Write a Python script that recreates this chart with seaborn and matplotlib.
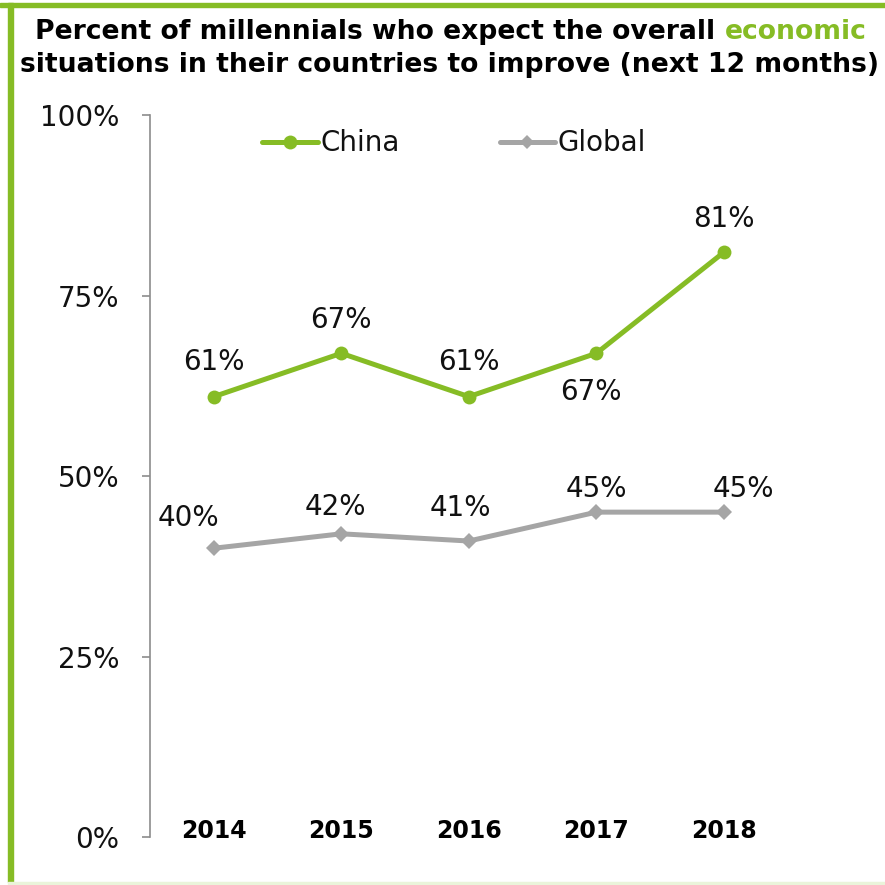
import matplotlib
matplotlib.use("Agg")
import matplotlib.pyplot as plt
import seaborn as sns
import pandas as pd
from matplotlib.patches import Rectangle
from matplotlib.lines import Line2D

years = ["2014", "2015", "2016", "2017", "2018"]
china = [61, 67, 61, 67, 81]
global_vals = [40, 42, 41, 45, 45]
y_ticks = [0, 25, 50, 75, 100]
y_tick_labels = ["0%", "25%", "50%", "75%", "100%"]

GREEN = "#86BC25"
GRAY = "#A5A5A5"
INK = "#111111"

# label offsets in points (dx, dy) for each point
china_offsets = [(0, 25), (0, 24), (0, 25), (-4, -28), (0, 24)]
global_offsets = [(-18, 22), (-4, 19), (-6, 24), (0, 17), (14, 17)]

df = pd.DataFrame({
    "year": years * 2,
    "value": china + global_vals,
    "series": ["China"] * len(years) + ["Global"] * len(years),
})

sns.set_theme(style="white")
plt.rcParams["font.family"] = ["DejaVu Sans"]

fig = plt.figure(figsize=(8.85, 8.85), dpi=100)
ax = fig.add_axes([0.1695, 0.0542, 0.7205, 0.8158])

sns.lineplot(data=df, x="year", y="value", hue="series", style="series",
             palette={"China": GREEN, "Global": GRAY},
             markers={"China": "o", "Global": "D"},
             dashes=False, linewidth=3.6, markersize=10,
             markeredgewidth=0, sort=False, ax=ax, legend=False)
for line in ax.lines:
    if line.get_marker() == "D":
        line.set_markersize(8)

ax.set_xlim(-0.5, len(years) - 0.5)
ax.set_ylim(0, 100)
ax.set_yticks(y_ticks)
ax.set_yticklabels(y_tick_labels, fontsize=20, color=INK)
ax.set_xlabel("")
ax.set_ylabel("")
ax.tick_params(axis="y", length=6, width=1.2, color="#8C8C8C", pad=16, left=True)
ax.tick_params(axis="x", length=0, pad=-13, labelsize=17)
for lbl in ax.get_xticklabels():
    lbl.set_fontweight("bold")
    lbl.set_color("#000000")

for side in ["top", "right", "bottom"]:
    ax.spines[side].set_visible(False)
ax.spines["left"].set_color("#8C8C8C")
ax.spines["left"].set_linewidth(1.2)

for i, v in enumerate(china):
    ax.annotate(f"{v}%", (i, v), xytext=china_offsets[i], textcoords="offset points",
                ha="center", va="center", fontsize=20, color=INK)
for i, v in enumerate(global_vals):
    ax.annotate(f"{v}%", (i, v), xytext=global_offsets[i], textcoords="offset points",
                ha="center", va="center", fontsize=20, color=INK)

handles = [
    Line2D([], [], color=GREEN, lw=3.6, marker="o", markersize=10, markeredgewidth=0),
    Line2D([], [], color=GRAY, lw=3.6, marker="D", markersize=7, markeredgewidth=0),
]
leg = ax.legend(handles, ["China", "Global"], loc="upper center",
                bbox_to_anchor=(0.477, 1.007), ncol=2, frameon=False, fontsize=20,
                handlelength=2.0, handletextpad=0.1, columnspacing=3.6,
                borderaxespad=0.3)
for t in leg.get_texts():
    t.set_color(INK)

# two-line title, with one word highlighted
title_size = 19.2
line1_a = "Percent of millennials who expect the overall "
line1_b = "economic"
line2 = "situations in their countries to improve (next 12 months)"
renderer = fig.canvas.get_renderer()
ta = fig.text(0, 1 - 32 / 885, line1_a, fontsize=title_size, fontweight="bold",
              color="#000000", ha="left", va="center")
tb = fig.text(0, 1 - 32 / 885, line1_b, fontsize=title_size, fontweight="bold",
              color=GREEN, ha="left", va="center")
wa = ta.get_window_extent(renderer).width
wb = tb.get_window_extent(renderer).width
fig_w = fig.get_figwidth() * fig.dpi
cx = 451
x0 = cx - (wa + wb) / 2
ta.set_x(x0 / fig_w)
tb.set_x((x0 + wa) / fig_w)
fig.text(450 / fig_w, 1 - 65 / 885, line2, fontsize=title_size, fontweight="bold",
         color="#000000", ha="center", va="center")

# frame around the figure
fig.patches.append(Rectangle((0, 1 - 7 / 885), 1, 4 / 885, transform=fig.transFigure,
                             color=GREEN, zorder=0))
fig.patches.append(Rectangle((8 / 885, 3 / 885), 5 / 885, 1 - 6 / 885,
                             transform=fig.transFigure, color=GREEN, zorder=0))
fig.patches.append(Rectangle((8 / 885, 0), 1, 3 / 885, transform=fig.transFigure,
                             color="#EAF4DA", zorder=0))

fig.savefig("out.png", dpi=100)
